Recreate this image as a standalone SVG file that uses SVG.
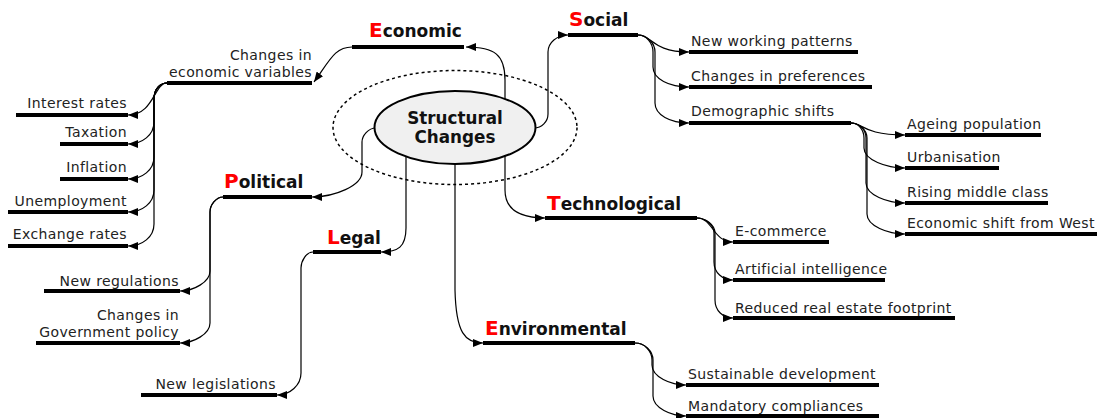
<svg xmlns="http://www.w3.org/2000/svg" width="1098" height="418" viewBox="0 0 1098 418">
  <style>
    .lbl { font-family: "DejaVu Sans", Verdana, sans-serif; font-size: 14px; letter-spacing: 0.4px; fill: #222; }
    .end { text-anchor: end; }
    .cat { font-family: "DejaVu Sans", Verdana, sans-serif; font-size: 17px; font-weight: bold; fill: #111; }
    .cap { font-size: 20px; fill: #ff0000; }
    .ctr { font-family: "DejaVu Sans", Verdana, sans-serif; font-size: 16.8px; font-weight: bold; fill: #111; text-anchor: middle; }
    .bar { stroke: #000; stroke-width: 4; }
    .link { fill: none; stroke: #000; stroke-width: 1.2; marker-end: url(#arrow); }
  </style>
  <defs>
    <marker id="arrow" viewBox="0 0 10 8" refX="10" refY="4" markerWidth="10" markerHeight="8" markerUnits="userSpaceOnUse" orient="auto">
      <path d="M0,0 L10,4 L0,8 z" fill="#000"/>
    </marker>
  </defs>

  <!-- connectors -->
  <g id="connectors">
    <!-- from the centre to the six categories -->
    <path class="link" d="M505,127 L505,80 C505,55 495,47 466,47"/>
    <path class="link" d="M534,128 C541.7,128 548,121.7 548,114 L548,52 C548,42.6 557,35 568,35"/>
    <path class="link" d="M376,128 C368.3,128 362,135.7 362,142 L362,172 C362,185.75 334.5,197 312,197"/>
    <path class="link" d="M406,127 L406,228 C406,247 398,252 381,252"/>
    <path class="link" d="M505,127 L505,190 C505,210 520,218 545,218"/>
    <path class="link" d="M455,127 L455,290 C456,333 465,343 483,343"/>
    <!-- Economic -->
    <path class="link" d="M352,47 C335,47 330,60 314,82"/>
    <path class="link" d="M167,83 C154,83 154,115 128,115"/>
    <path class="link" d="M167,83 C159.9,83 154,89.3 154,99 L154,122 C154,135 142.3,144 128,144"/>
    <path class="link" d="M167,83 C159.9,83 154,89.3 154,99 L154,157 C154,170 142.3,179 128,179"/>
    <path class="link" d="M167,83 C159.9,83 154,89.3 154,99 L154,190 C154,203 142.3,212 128,212"/>
    <path class="link" d="M167,83 C159.9,83 154,89.3 154,99 L154,224 C154,237 142.3,246 128,246"/>
    <!-- Political -->
    <path class="link" d="M223,197 C215.9,197 210,205.3 210,212 L210,271 C210,282 193.5,291 180,291"/>
    <path class="link" d="M223,197 C215.9,197 210,205.3 210,212 L210,323 C210,334 193.5,343 180,343"/>
    <!-- Legal -->
    <path class="link" d="M313,252 C306.4,252 301,260.8 301,268 L301,373 C301,385.1 290.2,395 277,395"/>
    <!-- Social -->
    <path class="link" d="M638,35 C652,35 652,52 689,52"/>
    <path class="link" d="M638,35 C646.25,35 653,43.25 653,52 L653,67 C653,78.9 669.2,87 689,87"/>
    <path class="link" d="M638,35 C647.25,35 655,43.25 655,52 L655,103 C655,114.9 670.2,123 689,123"/>
    <path class="link" d="M851,123 C863,123 863,135 905,135"/>
    <path class="link" d="M851,123 C858.25,123 864,129.75 864,138 L864,148 C864,159.9 886.45,168 905,168"/>
    <path class="link" d="M851,123 C859.25,123 866,129.75 866,138 L866,183 C866,194.9 887.45,203 905,203"/>
    <path class="link" d="M851,123 C859.25,123 867,129.75 867,138 L867,214 C867,225.9 887.95,234 905,234"/>
    <!-- Technological -->
    <path class="link" d="M697,218 C713,218 713,242 733,242"/>
    <path class="link" d="M697,218 C705.25,218 714,224.75 714,233 L714,262 C714,272.8 722.45,280 733,280"/>
    <path class="link" d="M697,218 C705.75,218 715,224.75 715,233 L715,300 C715,310.8 722.95,318 733,318"/>
    <!-- Environmental -->
    <path class="link" d="M635,343 C644.8,343 652,351.25 652,360 L652,365 C652,376.9 670.75,385 686,385"/>
    <path class="link" d="M635,343 C644.8,343 653,351.25 653,360 L653,396 C653,407.9 671.25,416 686,416"/>
  </g>

  <!-- centre -->
  <g id="structural-changes">
    <ellipse cx="455" cy="127.5" rx="122" ry="57" fill="none" stroke="#000" stroke-width="1.5" stroke-dasharray="3,3"/>
    <ellipse cx="455" cy="127.5" rx="80.5" ry="36.5" fill="#f0f0f0" stroke="#000" stroke-width="2"/>
    <text class="ctr" x="455" y="124">Structural</text>
    <text class="ctr" x="455" y="143">Changes</text>
  </g>

  <!-- categories -->
  <g id="economic">
    <line class="bar" x1="352" y1="47" x2="464" y2="47"/>
    <text class="cat" x="369" y="37"><tspan class="cap">E</tspan>conomic</text>
  </g>
  <g id="social">
    <line class="bar" x1="568" y1="35" x2="638" y2="35"/>
    <text class="cat" x="569" y="26"><tspan class="cap">S</tspan>ocial</text>
  </g>
  <g id="political">
    <line class="bar" x1="223" y1="197" x2="312" y2="197"/>
    <text class="cat" x="224" y="188"><tspan class="cap">P</tspan>olitical</text>
  </g>
  <g id="legal">
    <line class="bar" x1="313" y1="252" x2="381" y2="252"/>
    <text class="cat" x="327" y="244"><tspan class="cap">L</tspan>egal</text>
  </g>
  <g id="technological">
    <line class="bar" x1="545" y1="218" x2="697" y2="218"/>
    <text class="cat" x="547" y="210"><tspan class="cap">T</tspan>echnological</text>
  </g>
  <g id="environmental">
    <line class="bar" x1="483" y1="343" x2="635" y2="343"/>
    <text class="cat" x="485" y="335"><tspan class="cap">E</tspan>nvironmental</text>
  </g>

  <!-- Economic branch -->
  <g id="economic-variables">
    <line class="bar" x1="167" y1="83" x2="312" y2="83"/>
    <text class="lbl end" x="312" y="60">Changes in</text>
    <text class="lbl end" x="312" y="77">economic variables</text>
  </g>
  <g id="interest-rates">
    <line class="bar" x1="16" y1="115" x2="128" y2="115"/>
    <text class="lbl end" x="127" y="108">Interest rates</text>
  </g>
  <g id="taxation">
    <line class="bar" x1="60" y1="144" x2="128" y2="144"/>
    <text class="lbl end" x="127" y="137">Taxation</text>
  </g>
  <g id="inflation">
    <line class="bar" x1="60" y1="179" x2="128" y2="179"/>
    <text class="lbl end" x="127" y="172">Inflation</text>
  </g>
  <g id="unemployment">
    <line class="bar" x1="8" y1="212" x2="128" y2="212"/>
    <text class="lbl end" x="127" y="206">Unemployment</text>
  </g>
  <g id="exchange-rates">
    <line class="bar" x1="8" y1="246" x2="128" y2="246"/>
    <text class="lbl end" x="127" y="239">Exchange rates</text>
  </g>

  <!-- Political branch -->
  <g id="new-regulations">
    <line class="bar" x1="44" y1="291" x2="180" y2="291"/>
    <text class="lbl end" x="179" y="286">New regulations</text>
  </g>
  <g id="government-policy">
    <line class="bar" x1="36" y1="343" x2="180" y2="343"/>
    <text class="lbl end" x="179" y="320">Changes in</text>
    <text class="lbl end" x="179" y="337">Government policy</text>
  </g>

  <!-- Legal branch -->
  <g id="new-legislations">
    <line class="bar" x1="141" y1="395" x2="277" y2="395"/>
    <text class="lbl end" x="276" y="389">New legislations</text>
  </g>

  <!-- Social branch -->
  <g id="new-working-patterns">
    <line class="bar" x1="689" y1="52" x2="858" y2="52"/>
    <text class="lbl" x="691" y="46">New working patterns</text>
  </g>
  <g id="changes-in-preferences">
    <line class="bar" x1="689" y1="87" x2="872" y2="87"/>
    <text class="lbl" x="691" y="81">Changes in preferences</text>
  </g>
  <g id="demographic-shifts">
    <line class="bar" x1="689" y1="123" x2="851" y2="123"/>
    <text class="lbl" x="691" y="116">Demographic shifts</text>
  </g>
  <g id="ageing-population">
    <line class="bar" x1="905" y1="135" x2="1041" y2="135"/>
    <text class="lbl" x="907" y="129">Ageing population</text>
  </g>
  <g id="urbanisation">
    <line class="bar" x1="905" y1="168" x2="999" y2="168"/>
    <text class="lbl" x="907" y="162">Urbanisation</text>
  </g>
  <g id="rising-middle-class">
    <line class="bar" x1="905" y1="203" x2="1048" y2="203"/>
    <text class="lbl" x="907" y="197">Rising middle class</text>
  </g>
  <g id="economic-shift">
    <line class="bar" x1="905" y1="234" x2="1097" y2="234"/>
    <text class="lbl" x="907" y="228">Economic shift from West</text>
  </g>

  <!-- Technological branch -->
  <g id="e-commerce">
    <line class="bar" x1="733" y1="242" x2="829" y2="242"/>
    <text class="lbl" x="735" y="236">E-commerce</text>
  </g>
  <g id="artificial-intelligence">
    <line class="bar" x1="733" y1="280" x2="885" y2="280"/>
    <text class="lbl" x="735" y="274">Artificial intelligence</text>
  </g>
  <g id="real-estate-footprint">
    <line class="bar" x1="733" y1="318" x2="955" y2="318"/>
    <text class="lbl" x="735" y="313">Reduced real estate footprint</text>
  </g>

  <!-- Environmental branch -->
  <g id="sustainable-development">
    <line class="bar" x1="686" y1="385" x2="879" y2="385"/>
    <text class="lbl" x="688" y="379">Sustainable development</text>
  </g>
  <g id="mandatory-compliances">
    <line class="bar" x1="686" y1="416" x2="879" y2="416"/>
    <text class="lbl" x="688" y="411">Mandatory compliances</text>
  </g>
</svg>
